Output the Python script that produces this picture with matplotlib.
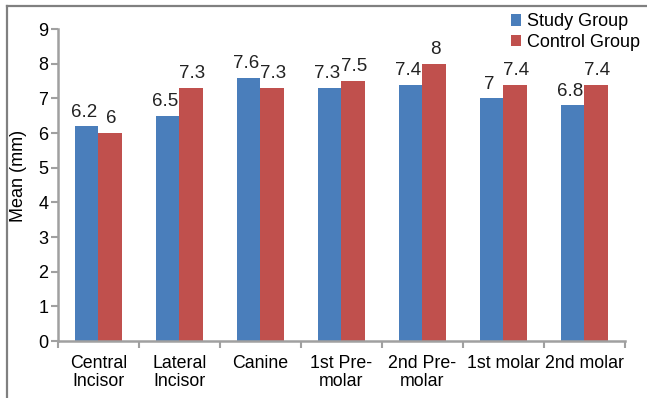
import numpy as np
import matplotlib
matplotlib.use("Agg")
import matplotlib.pyplot as plt
from matplotlib.lines import Line2D

plt.rcParams['font.family'] = ['Liberation Sans', 'DejaVu Sans']

categories = ["Central\nIncisor", "Lateral\nIncisor", "Canine", "1st Pre-\nmolar",
              "2nd Pre-\nmolar", "1st molar", "2nd molar"]
study = [6.2, 6.5, 7.6, 7.3, 7.4, 7.0, 6.8]
control = [6.0, 7.3, 7.3, 7.5, 8.0, 7.4, 7.4]
study_labels = ["6.2", "6.5", "7.6", "7.3", "7.4", "7", "6.8"]
control_labels = ["6", "7.3", "7.3", "7.5", "8", "7.4", "7.4"]

blue = '#4a7ebb'
red = '#c0504d'
grey = '#a0a0a0'

fig = plt.figure(figsize=(6.47, 3.98), dpi=100)
ax = fig.add_axes([0.0896, 0.1432, 0.8764, 0.7838])

# outer frame (only left and top visible in the reference)
fx, fy = 7 / 647, 1 - 6 / 398
fig.lines.append(Line2D([fx, fx], [0, fy], transform=fig.transFigure, color='#808080', lw=1.6))
fig.lines.append(Line2D([fx, 1], [fy, fy], transform=fig.transFigure, color='#808080', lw=1.6))

x = np.arange(len(categories))
w = 0.285
b1 = ax.bar(x - w / 2, study, w, color=blue, label='Study Group')
b2 = ax.bar(x + w / 2, control, w, color=red, label='Control Group')

for rect, lab in zip(b1, study_labels):
    ax.annotate(lab, (rect.get_x() + rect.get_width() / 2, rect.get_height()),
                xytext=(-2, 4), textcoords='offset points', ha='center', va='bottom',
                fontsize=13.5, color='#222222')
for rect, lab in zip(b2, control_labels):
    ax.annotate(lab, (rect.get_x() + rect.get_width() / 2, rect.get_height()),
                xytext=(1, 4), textcoords='offset points', ha='center', va='bottom',
                fontsize=13.5, color='#222222')

ax.set_xlim(-0.5, len(categories) - 0.5)
ax.set_ylim(0, 9)
ax.set_yticks(range(0, 10))
ax.set_xticks(np.arange(-0.5, len(categories), 1.0))
ax.set_xticklabels([])
ax.set_xticks(x, minor=True)
ax.set_xticklabels(categories, minor=True, fontsize=12.8, linespacing=1.1)
ax.tick_params(axis='x', which='minor', length=0, pad=10)
ax.tick_params(axis='x', which='major', length=5, color=grey, width=1.5, direction='out')
ax.tick_params(axis='y', length=5, color=grey, width=1.5, labelsize=13, pad=2)

for s in ['top', 'right']:
    ax.spines[s].set_visible(False)
for s in ['left', 'bottom']:
    ax.spines[s].set_color(grey)
    ax.spines[s].set_linewidth(1.8)

ax.set_ylabel('Mean (mm)', fontsize=13)
ax.yaxis.set_label_coords(-0.055, 0.53)

fig.legend(loc='upper right', bbox_to_anchor=(1.0, 0.985), frameon=False, fontsize=13,
           handlelength=0.6, handleheight=0.6, handletextpad=0.3, labelspacing=0.2,
           borderaxespad=0)

fig.savefig('out.png', dpi=100)
